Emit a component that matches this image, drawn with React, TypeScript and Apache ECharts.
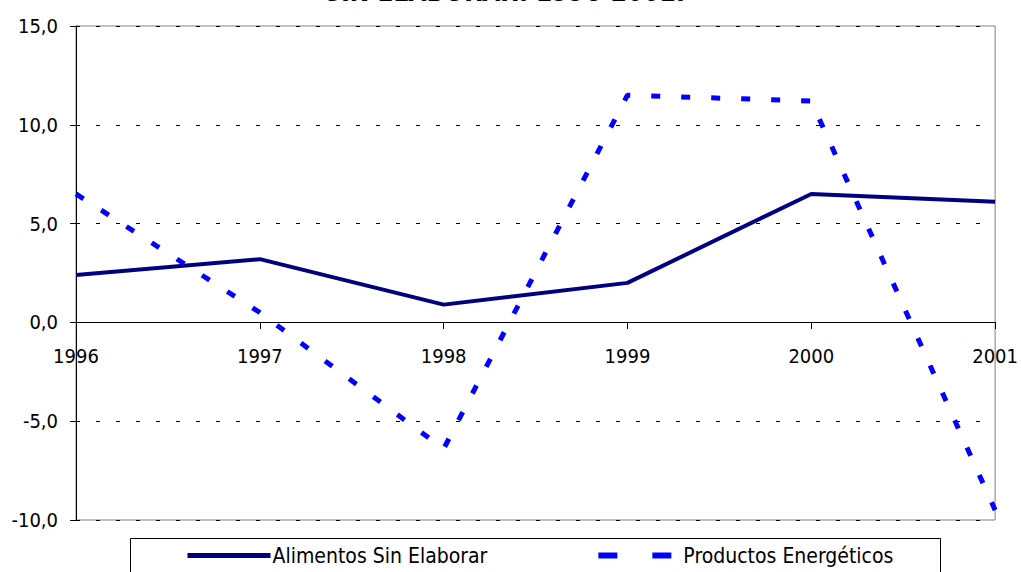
import React, { useEffect, useRef } from "react";
import * as echarts from "echarts";

const years = ["1996", "1997", "1998", "1999", "2000", "2001"];
const alimentos = [2.4, 3.2, 0.9, 2.0, 6.5, 6.1];
const energeticos = [6.5, 0.5, -6.4, 11.5, 11.2, -9.5];
const seriesNames = ["Alimentos Sin Elaborar", "Productos Energéticos"];
const titleText = "SIN ELABORAR. 1996-2001.";

const FONT = '"DejaVu Sans Condensed", "DejaVu Sans", sans-serif';

export default function App() {
  const ref = useRef<HTMLDivElement>(null);
  useEffect(() => {
    if (!ref.current) return;
    const chart = echarts.init(ref.current, undefined, { renderer: "svg" });
    chart.setOption({
      animation: false,
      backgroundColor: "#ffffff",
      grid: {
        left: 76,
        right: 23,
        top: 26,
        bottom: 52,
        show: true,
        borderColor: "#808080",
        borderWidth: 1,
        containLabel: false,
      },
      graphic: [
        {
          type: "text",
          x: 506,
          y: 5,
          style: {
            text: titleText,
            align: "center",
            verticalAlign: "bottom",
            font: `italic bold 26px ${FONT}`,
            fill: "#000",
          },
        },
        {
          type: "rect",
          shape: { x: 130.5, y: 538.5, width: 810, height: 60 },
          style: { fill: "#fff", stroke: "#000", lineWidth: 1 },
          z: 1,
        },
      ],
      legend: {
        left: 185,
        top: 545,
        itemWidth: 83,
        itemHeight: 16,
        itemGap: 108,
        padding: 0,
        z: 5,
        itemStyle: { opacity: 0 },
        textStyle: { fontFamily: FONT, fontSize: 21, color: "#000", padding: [0, 0, 0, -3] },
        data: [
          { name: seriesNames[0], lineStyle: { width: 5, color: "#000080" } },
          { name: seriesNames[1], lineStyle: { type: [19, 35], width: 6, color: "#0000ff", cap: "butt" } },
        ],
      },
      xAxis: {
        type: "category",
        data: years,
        boundaryGap: false,
        position: "bottom",
        offset: -198,
        axisLine: { onZero: false, lineStyle: { color: "#000", width: 1 } },
        axisTick: { show: true, length: 7, lineStyle: { color: "#000" } },
        axisLabel: {
          fontFamily: FONT,
          fontSize: 20,
          color: "#000",
          margin: 24,
          showMaxLabel: true,
          showMinLabel: true,
        },
        splitLine: { show: false },
      },
      yAxis: {
        type: "value",
        min: -10,
        max: 15,
        interval: 5,
        axisLine: { show: true, lineStyle: { color: "#000", width: 1 } },
        axisTick: { show: true, length: 6, lineStyle: { color: "#000" } },
        axisLabel: {
          fontFamily: FONT,
          fontSize: 20,
          color: "#000",
          margin: 18,
          formatter: (v: number) => v.toFixed(1).replace(".", ","),
        },
        splitLine: {
          show: true,
          lineStyle: { color: "#000", width: 1, type: [4, 16] },
        },
      },
      series: [
        {
          name: seriesNames[0],
          type: "line",
          data: alimentos,
          symbol: "none",
          lineStyle: { color: "#000080", width: 4 },
          itemStyle: { color: "#000080" },
          z: 3,
        },
        {
          name: seriesNames[1],
          type: "line",
          data: energeticos,
          symbol: "none",
          lineStyle: { color: "#0000ff", width: 5, type: [9, 21] },
          itemStyle: { color: "#0000ff" },
          z: 4,
        },
      ],
    });
    return () => chart.dispose();
  }, []);
  return (
    <div
      ref={ref}
      style={{ position: "fixed", left: 0, top: 0, width: 1021, height: 572 }}
    />
  );
}
